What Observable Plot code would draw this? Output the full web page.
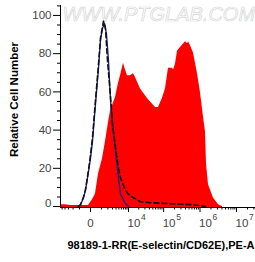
<!DOCTYPE html>
<html><head><meta charset="utf-8">
<script src="https://cdn.jsdelivr.net/npm/d3@7"></script>
<script src="https://cdn.jsdelivr.net/npm/@observablehq/plot@0.6"></script>
<style>html,body{margin:0;padding:0;background:#fff;overflow:hidden;} svg{display:block}</style>
</head><body><div id="chart"></div>
<script>
// Fluorescence intensity (PE-A) bins and relative cell counts
const redX = [-5640,-3840,-2530,-879,-134,134,371,657,1132,1576,2114,2530,3840,4853,5640,7020,8100,9320,11470,14070,16100,22450,35450,43000,59400,72000,92900,112500,136000,176000,187000,212000,241000,291000,400000,454000,483000,549000,663000,854000,1032000,1247000,1416000,1507000,1710000,2340000,3220000,4140000];
const redY = [1,1,0.5,0.5,0.5,3.5,6.5,17,25,34,44,50,57,64.5,68.5,75,71.5,68.5,68.5,69.5,67.5,61.5,56.5,54.7,51.8,51.8,56.7,61.6,72.4,72.4,71.5,74.4,81.3,83.2,86.2,85.2,86.2,84.2,80.3,69.5,59.6,46.8,39,22.2,11.4,4.5,1,0];
const blueX = [-1132,-879,-555,-371,-134,0,134,371,657,879,1132,1418,1743,2114,2530,3007,3840,4490,5640,7020,8100,9990];
const blueY = [0,1,4.5,8.5,18.3,25.2,34,53.7,72.4,87.2,93.1,96,90.1,76.4,55.7,43.9,29.1,19.3,6.5,3.5,1.5,0];
const blackX = [-1132,-879,-555,-371,-134,0,134,371,657,879,1132,1271,1576,1923,2530,3007,3840,4853,5640,6530,8100,9320,11470,16100,22450,43000,155000,549000,1032000,1416000];
const blackY = [0,1,5,9,19,27,36,55.7,74.4,88.2,94,97,93,76.4,57.7,42.9,31,20,15,12.4,8.5,7,5.5,4,2.5,2,1.5,1,0.5,0];

// Axes
const xMin = -5640, xMax = 33200000;
const yMin = -0.5, yMax = 105.2;
const xMajor = [0, 10000, 100000, 1000000, 10000000];
const xBase = ["0", "10", "10", "10", "10"];
const xExp = ["", "4", "5", "6", "7"];
const xMinor = [-5000,-4000,-3000,-2000,-1000,1000,2000,3000,4000,5000,6000,7000,8000,9000,
  20000,30000,40000,50000,60000,70000,80000,90000,
  200000,300000,400000,500000,600000,700000,800000,900000,
  2000000,3000000,4000000,5000000,6000000,7000000,8000000,9000000,20000000,30000000];
const yMajor = [0, 20, 40, 60, 80, 100];
const yMinor = [5,10,15,25,30,35,45,50,55,65,70,75,85,90,95,105];
const xTitle = "98189-1-RR(E-selectin/CD62E),PE-A";
const yTitle = "Relative Cell Number";
const watermark = "WWW.PTGLAB.COM";

const red = redX.map((x, i) => ({x, y: redY[i]}));
const blue = blueX.map((x, i) => ({x, y: blueY[i]}));
const black = blackX.map((x, i) => ({x, y: blackY[i]}));
const xLab = xMajor.map((v, i) => ({v, base: xBase[i], exp: xExp[i]}));

const font = "'Liberation Sans', Arial, sans-serif";
const chart = Plot.plot({
  width: 255, height: 262,
  marginLeft: 60, marginRight: 0, marginTop: 5, marginBottom: 55,
  style: {fontFamily: font, background: "white"},
  x: {type: "symlog", constant: 1000, domain: [xMin, xMax], axis: null},
  y: {domain: [yMin, yMax], axis: null},
  marks: [
    Plot.text([watermark], {frameAnchor: "top-left", textAnchor: "start", lineAnchor: "bottom", dx: 2, dy: 15, fontSize: 20, fontStyle: "italic", fill: "none", stroke: "#d6d6d6", strokeWidth: 0.7}),
    Plot.areaY(red, {x: "x", y1: yMin, y2: "y", fill: "#ff0000"}),
    Plot.lineY(blue, {x: "x", y: "y", stroke: "#1c1c8c", strokeWidth: 1.3}),
    Plot.lineY(black, {x: "x", y: "y", stroke: "#111", strokeWidth: 1.6, strokeDasharray: "5,3"}),
    Plot.ruleX([xMin], {stroke: "black", strokeWidth: 1}),
    Plot.ruleY([yMin], {stroke: "black", strokeWidth: 1}),
    Plot.axisY(yMajor, {tickSize: 7, tickFormat: () => "", label: null}),
    Plot.axisY(yMinor, {tickSize: 3, tickFormat: () => "", label: null}),
    Plot.axisX(xMajor, {tickSize: 5, tickFormat: () => "", label: null}),
    Plot.axisX(xMinor, {tickSize: 2.5, tickFormat: () => "", label: null}),
    Plot.text(yMajor.filter(d => d !== 0), {y: d => d, text: d => String(d), frameAnchor: "left", textAnchor: "end", dx: -9, fill: "#444", fontSize: 11.5}),
    Plot.text([0], {y: d => d, text: d => String(d), frameAnchor: "left", textAnchor: "end", dx: -9, dy: -3, fill: "#444", fontSize: 11.5}),
    Plot.text(xLab.filter(d => d.exp === ""), {x: "v", text: "base", frameAnchor: "bottom", dy: 19, textAnchor: "middle", fill: "#444", fontSize: 11.5}),
    Plot.text(xLab.filter(d => d.exp !== ""), {x: "v", text: "base", frameAnchor: "bottom", dy: 19, dx: -1, textAnchor: "start", fill: "#444", fontSize: 11.5}),
    Plot.text(xLab.filter(d => d.exp !== ""), {x: "v", text: "exp", frameAnchor: "bottom", dy: 12, dx: 12.5, textAnchor: "start", fill: "#444", fontSize: 8.5}),
    Plot.text([yTitle], {frameAnchor: "left", textAnchor: "middle", rotate: -90, dx: -46, dy: -7, fontWeight: "bold", fontSize: 11.5, fill: "black"}),
    Plot.text([xTitle], {frameAnchor: "bottom-left", textAnchor: "start", dx: 7, dy: 41, fontWeight: "bold", fontSize: 11, fill: "black"})
  ]
});
document.getElementById("chart").append(chart);
</script>
</body></html>
